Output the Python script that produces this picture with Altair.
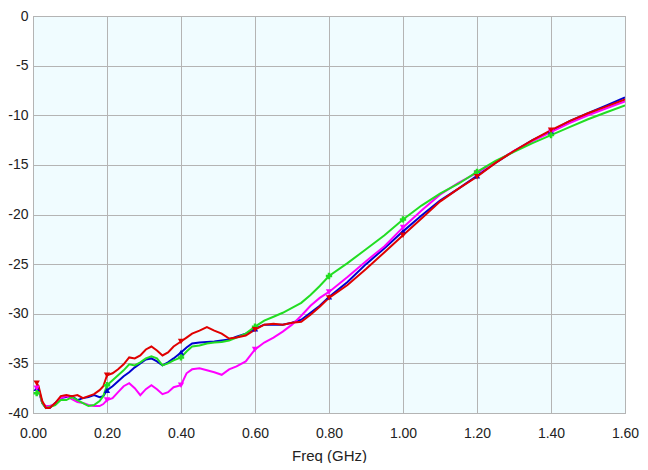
import altair as alt
import pandas as pd

freq = [0.010, 0.015, 0.025, 0.035, 0.045, 0.06, 0.075, 0.09, 0.105, 0.12,
        0.135, 0.15, 0.165, 0.18, 0.19, 0.20, 0.215, 0.23, 0.245, 0.26,
        0.275, 0.29, 0.305, 0.32, 0.335, 0.35, 0.365, 0.38, 0.40, 0.415,
        0.43, 0.45, 0.47, 0.49, 0.51, 0.53, 0.55, 0.575, 0.60, 0.625,
        0.65, 0.675, 0.70, 0.725, 0.75, 0.775, 0.80, 0.85, 0.90, 0.95,
        1.00, 1.05, 1.10, 1.15, 1.20, 1.25, 1.30, 1.35, 1.40, 1.45,
        1.50, 1.55, 1.60]

red = [-37.0, -37.3, -38.8, -39.5, -39.5, -39.0, -38.3, -38.2, -38.3, -38.2,
       -38.5, -38.3, -38.1, -37.7, -37.3, -36.2, -36.0, -35.6, -35.1, -34.4,
       -34.5, -34.2, -33.6, -33.3, -33.7, -34.2, -33.9, -33.3, -32.8, -32.4,
       -32.0, -31.7, -31.35, -31.7, -32.0, -32.5, -32.4, -32.2, -31.6, -31.1,
       -31.0, -31.1, -30.9, -30.8, -30.1, -29.3, -28.4, -27.1, -25.5, -23.8,
       -22.1, -20.4, -18.7, -17.4, -16.2, -14.8, -13.6, -12.5, -11.5, -10.6,
       -9.8, -9.1, -8.4]

blue = [-37.5, -37.6, -39.0, -39.5, -39.5, -39.0, -38.5, -38.4, -38.3, -38.7,
        -38.5, -38.4, -38.2, -38.4, -38.3, -37.7, -37.3, -36.8, -36.3, -35.9,
        -35.4, -35.0, -34.6, -34.5, -34.8, -35.2, -34.9, -34.5, -33.9, -33.4,
        -33.0, -32.9, -32.85, -32.8, -32.7, -32.6, -32.3, -32.0, -31.5, -31.1,
        -31.1, -31.1, -30.9, -30.6, -29.9, -29.2, -28.3, -26.8, -25.0, -23.4,
        -21.7, -20.1, -18.6, -17.4, -16.1, -14.8, -13.6, -12.5, -11.6, -10.6,
        -9.8, -9.0, -8.2]

green = [-38.0, -37.5, -39.0, -39.5, -39.4, -39.2, -38.7, -38.7, -38.4, -38.7,
         -39.0, -39.3, -39.2, -38.8, -38.3, -37.2, -36.7, -36.2, -35.7, -35.1,
         -35.2, -34.9, -34.5, -34.3, -34.5, -35.2, -35.0, -34.7, -34.4, -33.8,
         -33.3, -33.2, -33.0, -32.9, -32.85, -32.7, -32.4, -32.0, -31.3, -30.7,
         -30.3, -29.9, -29.4, -28.9, -28.1, -27.2, -26.2, -24.9, -23.5, -22.1,
         -20.5, -19.1, -17.9, -16.9, -15.7, -14.6, -13.7, -12.8, -12.0, -11.2,
         -10.4, -9.7, -9.0]

magenta = [-37.5, -37.7, -39.0, -39.3, -39.3, -39.1, -38.5, -38.3, -38.6, -38.9,
           -39.0, -39.2, -39.3, -39.3, -39.1, -38.7, -38.5, -37.9, -37.3, -37.0,
           -37.5, -38.2, -37.6, -37.2, -37.6, -38.1, -37.9, -37.4, -37.2, -36.0,
           -35.6, -35.5, -35.7, -35.9, -36.15, -35.6, -35.3, -34.8, -33.6, -32.9,
           -32.4, -31.8, -31.1, -30.2, -29.2, -28.4, -27.8, -26.3, -24.7, -23.2,
           -21.3, -19.6, -18.0, -16.8, -15.8, -14.7, -13.6, -12.6, -11.7, -10.8,
           -10.0, -9.3, -8.6]

marker_freqs = [0.010, 0.20, 0.40, 0.60, 0.80, 1.00, 1.20, 1.40]

series = ["blue", "magenta", "green", "red"]
colors = ["#0000D0", "#FF00FF", "#22DD22", "#E00000"]
shapes = ["triangle-up", "triangle-down", "cross", "triangle-down"]
vals = {"red": red, "magenta": magenta, "green": green, "blue": blue}

rows = []
for s in series:
    for f, v in zip(freq, vals[s]):
        rows.append({"freq": f, "val": v, "series": s,
                     "marker": f in marker_freqs})
df = pd.DataFrame(rows)

xscale = alt.Scale(domain=[0, 1.6], nice=False, zero=False)
yscale = alt.Scale(domain=[-40, 0], nice=False)
cscale = alt.Scale(domain=series, range=colors)
sscale = alt.Scale(domain=series, range=shapes)

FONT = "Liberation Sans"

x = alt.X("freq:Q", scale=xscale, title="Freq (GHz)",
          axis=alt.Axis(values=[0, 0.2, 0.4, 0.6, 0.8, 1.0, 1.2, 1.4, 1.6],
                        format=".2f", ticks=False, domain=False,
                        labelFlush=False, labelOverlap=False,
                        labelPadding=13, titlePadding=8,
                        gridColor="#B4B4B4", gridOpacity=1))
y = alt.Y("val:Q", scale=yscale, title=None,
          axis=alt.Axis(values=list(range(-40, 1, 5)), ticks=False,
                        domain=False, labelPadding=5,
                        labelFlush=False, labelOverlap=False,
                        labelExpr="'' + datum.value",
                        gridColor="#B4B4B4", gridOpacity=1))

base = alt.Chart(df)

lines = base.mark_line(strokeWidth=2, clip=True).encode(
    x=x, y=y,
    color=alt.Color("series:N", scale=cscale, legend=None),
    detail="series:N",
    order=alt.Order("freq:Q"),
)

points = base.transform_filter(alt.datum.marker).mark_point(
    filled=True, size=40, opacity=1, clip=True).encode(
    x=alt.X("freq:Q", scale=xscale),
    y=alt.Y("val:Q", scale=yscale),
    color=alt.Color("series:N", scale=cscale, legend=None),
    shape=alt.Shape("series:N", scale=sscale, legend=None),
)

chart = alt.layer(lines, points).properties(
    width=592, height=397,
    autosize=alt.AutoSizeParams(type="none"),
    padding={"left": 25, "top": 8, "right": 15, "bottom": 50},
    background="white",
).configure_view(
    fill="#F0FCFF", stroke="#A0A0A0", strokeWidth=1
).configure_axis(
    labelFont=FONT, labelFontSize=14, labelColor="#222222",
    titleFont=FONT, titleFontSize=15, titleColor="#222222",
    titleFontWeight="normal",
)

chart.save("out.html", embed_options={"renderer": "svg", "actions": False})
